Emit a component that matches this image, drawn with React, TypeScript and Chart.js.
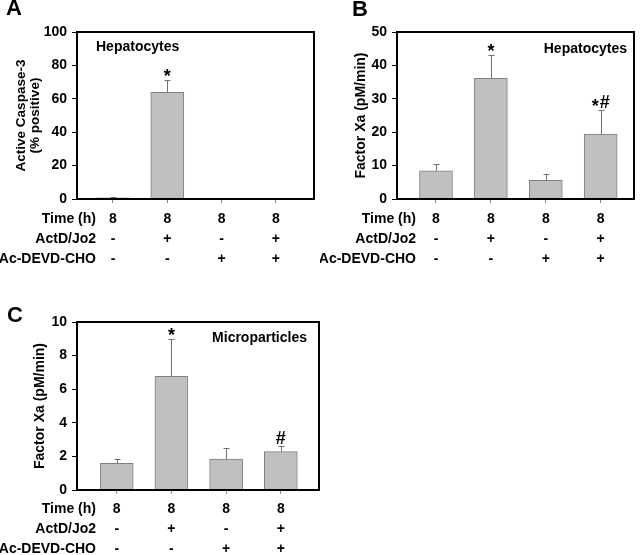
import React, { useEffect, useRef } from 'react';
import { Chart, registerables } from 'chart.js';

Chart.register(...registerables);

// ---------- data ----------
const categories = ['g1', 'g2', 'g3', 'g4'];
const timeLabels = ['8', '8', '8', '8'];
const actdJo2 = ['-', '+', '-', '+'];
const acDevdCho = ['-', '-', '+', '+'];
const rowTitles = ['Time (h)', 'ActD/Jo2', 'Ac-DEVD-CHO'];

const caspaseValues = [0.7, 63.8, 0, 0];
const caspaseErrors = [0.3, 7.4, 0, 0];
const caspaseMarks = ['', '*', '', ''];

const hepXaValues = [8.4, 36.1, 5.6, 19.4];
const hepXaErrors = [2.0, 7.1, 2.0, 7.1];
const hepXaMarks = ['', '*', '', '*#'];

const mpXaValues = [1.59, 6.77, 1.84, 2.28];
const mpXaErrors = [0.27, 2.22, 0.66, 0.33];
const mpXaMarks = ['', '*', '', '#'];

const FONT = '"Liberation Sans", Arial, Helvetica, sans-serif';

type PanelCfg = {
  left: number; top: number; width: number; height: number;
  padding: { top: number; right: number; bottom: number; left: number };
  yWidth: number; xHeight: number; xMin: number; xMax: number;
  yMax: number; yStep: number;
  yTitle: string | string[]; yTitleSize: number; yTitleLH: number; yTitlePad: number;
  values: number[]; errors: number[]; marks: string[];
  letter: string; letterX: number; letterY: number;
  note: string; noteX: number; noteY: number; noteAlign: CanvasTextAlign;
  rowRight: number; tickPad: number;
};

const panels: PanelCfg[] = [
  {
    left: 0, top: 0, width: 320, height: 280,
    padding: { top: 32, right: 6, bottom: 6, left: 0 },
    yWidth: 77, xHeight: 75, xMin: -0.663, xMax: 3.702,
    yMax: 100, yStep: 20,
    yTitle: ['Active Caspase-3', '(% positive)'], yTitleSize: 13.5, yTitleLH: 1.0, yTitlePad: 15,
    values: caspaseValues, errors: caspaseErrors, marks: caspaseMarks,
    letter: 'A', letterX: 6, letterY: 15,
    note: 'Hepatocytes', noteX: 96, noteY: 47, noteAlign: 'left',
    rowRight: 96, tickPad: 6,
  },
  {
    left: 320, top: 0, width: 320, height: 280,
    padding: { top: 32, right: 6, bottom: 6, left: 0 },
    yWidth: 77, xHeight: 75, xMin: -0.71, xMax: 3.607,
    yMax: 50, yStep: 10,
    yTitle: 'Factor Xa (pM/min)', yTitleSize: 14, yTitleLH: 1.2, yTitlePad: 33,
    values: hepXaValues, errors: hepXaErrors, marks: hepXaMarks,
    letter: 'B', letterX: 32, letterY: 16,
    note: 'Hepatocytes', noteX: 307, noteY: 49, noteAlign: 'right',
    rowRight: 96, tickPad: 6,
  },
  {
    left: 0, top: 280, width: 330, height: 275,
    padding: { top: 42, right: 11, bottom: 0, left: 0 },
    yWidth: 77, xHeight: 65, xMin: -0.726, xMax: 3.698,
    yMax: 10, yStep: 2,
    yTitle: 'Factor Xa (pM/min)', yTitleSize: 14, yTitleLH: 1.2, yTitlePad: 31.6,
    values: mpXaValues, errors: mpXaErrors, marks: mpXaMarks,
    letter: 'C', letterX: 7, letterY: 42,
    note: 'Microparticles', noteX: 307, noteY: 58, noteAlign: 'right',
    rowRight: 96, tickPad: 5,
  },
];

const TICK_LEN_X = 4;
const TICK_SIZE = 14;
const TICK_LH = 1.42;

function decoPlugin(cfg: PanelCfg) {
  return {
    id: 'panelDeco',
    afterDraw(chart: any) {
      const { ctx, chartArea: a, scales } = chart;
      const xs = scales.x;
      const ys = scales.y;
      ctx.save();
      // error bars (upper whiskers)
      ctx.strokeStyle = '#707070';
      ctx.lineWidth = 1;
      cfg.values.forEach((v, i) => {
        const e = cfg.errors[i];
        if (!e) return;
        const px = Math.round(xs.getPixelForValue(i)) + 0.5;
        const y0 = ys.getPixelForValue(v);
        const y1 = Math.round(ys.getPixelForValue(v + e)) + 0.5;
        ctx.beginPath();
        ctx.moveTo(px, y0);
        ctx.lineTo(px, y1);
        ctx.moveTo(px - 3, y1);
        ctx.lineTo(px + 3, y1);
        ctx.stroke();
      });
      // significance marks
      const fs = 18;
      ctx.fillStyle = '#000';
      ctx.font = `bold ${fs}px ${FONT}`;
      ctx.textAlign = 'left';
      ctx.textBaseline = 'alphabetic';
      cfg.marks.forEach((m, i) => {
        if (!m) return;
        const px = xs.getPixelForValue(i);
        const topY = ys.getPixelForValue(cfg.values[i] + cfg.errors[i]);
        const cy = topY - 9;
        const chars = m.split('');
        const widths = chars.map((c) => ctx.measureText(c).width);
        const gap = 1;
        const total = widths.reduce((s, w) => s + w, 0) + gap * (chars.length - 1);
        let x = px - total / 2;
        chars.forEach((c, k) => {
          const base = c === '*' ? cy + 0.6 * fs : cy + 0.36 * fs;
          ctx.fillText(c, x, base);
          x += widths[k] + gap;
        });
      });
      // plot frame
      ctx.strokeStyle = '#000';
      ctx.lineWidth = 2;
      ctx.strokeRect(a.left, a.top, a.right - a.left, a.bottom - a.top);
      // row titles of the x-axis table
      ctx.font = `bold ${TICK_SIZE}px ${FONT}`;
      ctx.textAlign = 'right';
      ctx.textBaseline = 'middle';
      const lh = TICK_SIZE * TICK_LH;
      rowTitles.forEach((t, r) => {
        const yy = xs.top + TICK_LEN_X + cfg.tickPad + lh / 2 + r * lh;
        ctx.fillText(t, cfg.rowRight, yy);
      });
      // panel letter
      ctx.font = `bold 22px ${FONT}`;
      ctx.textAlign = 'left';
      ctx.textBaseline = 'alphabetic';
      ctx.fillText(cfg.letter, cfg.letterX, cfg.letterY);
      // note inside plot
      ctx.font = `bold 14px ${FONT}`;
      ctx.textAlign = cfg.noteAlign;
      ctx.textBaseline = 'middle';
      ctx.fillText(cfg.note, cfg.noteX, cfg.noteY);
      ctx.restore();
    },
  };
}

function Panel({ cfg }: { cfg: PanelCfg }) {
  const ref = useRef<HTMLCanvasElement>(null);
  useEffect(() => {
    const tickFont = { family: FONT, size: TICK_SIZE, weight: 'bold' as const, lineHeight: TICK_LH };
    const chart = new Chart(ref.current as HTMLCanvasElement, {
      type: 'bar',
      data: {
        datasets: [
          {
            data: cfg.values.map((v, i) => ({ x: i, y: v })),
            backgroundColor: '#c0c0c0',
            borderColor: '#808080',
            borderWidth: 1,
            barThickness: 33,
          },
        ],
      },
      options: {
        responsive: false,
        animation: false,
        events: [],
        layout: { padding: cfg.padding },
        plugins: { legend: { display: false }, tooltip: { enabled: false }, title: { display: false } },
        scales: {
          x: {
            type: 'linear',
            min: cfg.xMin,
            max: cfg.xMax,
            offset: false,
            afterBuildTicks: (s: any) => {
              s.ticks = categories.map((_, i) => ({ value: i }));
            },
            afterFit: (s: any) => {
              s.height = cfg.xHeight;
            },
            grid: { drawOnChartArea: false, drawTicks: true, tickLength: TICK_LEN_X, color: '#8a8a8a', offset: false },
            border: { display: false },
            ticks: {
              autoSkip: false,
              maxRotation: 0,
              minRotation: 0,
              padding: cfg.tickPad,
              color: '#000',
              font: tickFont,
              callback: (v: any) => [timeLabels[v], actdJo2[v], acDevdCho[v]],
            },
          },
          y: {
            type: 'linear',
            min: 0,
            max: cfg.yMax,
            afterFit: (s: any) => {
              s.width = cfg.yWidth;
            },
            grid: { drawOnChartArea: false, drawTicks: true, tickLength: 5, color: '#000' },
            border: { display: false },
            ticks: { stepSize: cfg.yStep, padding: 5, color: '#000', font: tickFont },
            title: {
              display: true,
              text: cfg.yTitle,
              color: '#000',
              font: { family: FONT, size: cfg.yTitleSize, weight: 'bold', lineHeight: cfg.yTitleLH },
              padding: { top: cfg.yTitlePad, bottom: 0 },
            },
          },
        },
      } as any,
      plugins: [decoPlugin(cfg)],
    });
    return () => chart.destroy();
  }, [cfg]);
  return (
    <canvas
      ref={ref}
      width={cfg.width}
      height={cfg.height}
      style={{ position: 'absolute', left: cfg.left, top: cfg.top, width: cfg.width, height: cfg.height }}
    />
  );
}

export default function App() {
  return (
    <div style={{ position: 'absolute', left: 0, top: 0, width: 640, height: 555, background: '#fff', overflow: 'hidden' }}>
      {panels.map((p) => (
        <Panel key={p.letter} cfg={p} />
      ))}
    </div>
  );
}
